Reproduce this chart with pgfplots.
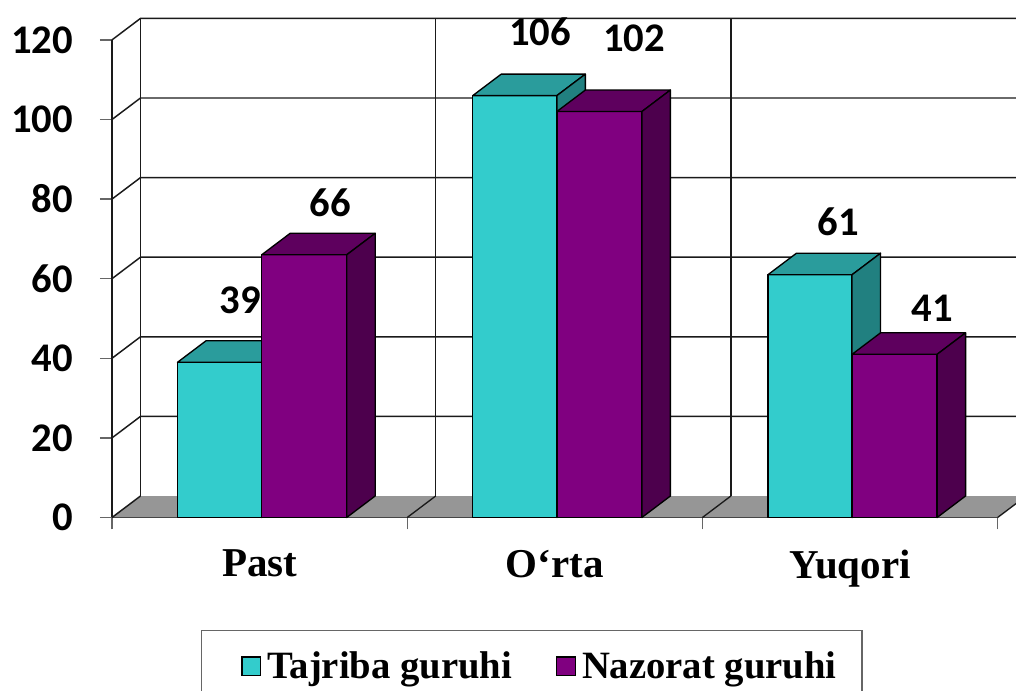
\documentclass[border=0pt]{standalone}
\usepackage{pgfplots}
\pgfplotsset{compat=1.18}
\usepackage{fontspec}
\setmainfont{Liberation Serif}
\newfontfamily\numfont{Carlito}
\definecolor{tajF}{HTML}{33CCCC}
\definecolor{tajT}{HTML}{2A9C9C}
\definecolor{tajS}{HTML}{218080}
\definecolor{nazF}{HTML}{800080}
\definecolor{nazT}{HTML}{5E005E}
\definecolor{nazS}{HTML}{4D004D}
\definecolor{floorc}{HTML}{969696}
\definecolor{linec}{HTML}{1A1A1A}
\newcommand\DX{0.0965}
\newcommand\DY{5.4}
\newcommand\barthreed[4]{%
  \pgfmathsetmacro\xa{#1+\DX}%
  \pgfmathsetmacro\xb{#2+\DX}%
  \pgfmathsetmacro\yt{#3+\DY}%
  \addplot[fill=#4F, draw=black, line width=1pt, line join=round] coordinates {(#1,0) (#2,0) (#2,#3) (#1,#3)} -- cycle;
  \addplot[fill=#4T, draw=black, line width=1pt, line join=round] coordinates {(#1,#3) (#2,#3) (\xb,\yt) (\xa,\yt)} -- cycle;
  \addplot[fill=#4S, draw=black, line width=1pt, line join=round] coordinates {(#2,0) (\xb,\DY) (\xb,\yt) (#2,#3)} -- cycle;
}
\newcommand\wallline[1]{%
  \pgfmathsetmacro\yb{#1+\DY}%
  \addplot[draw=linec, line width=1.1pt] coordinates {(0,#1) (\DX,\yb) (3.3,\yb)};
}
\begin{document}
\begin{tikzpicture}
\useasboundingbox (0pt,0pt) rectangle (762pt,518.25pt);
\clip (0pt,0pt) rectangle (762pt,518.25pt);
\begin{axis}[
  at={(84pt,130.125pt)}, anchor=south west,
  x=221.4pt, y=2.985pt,
  xmin=0, xmax=3, ymin=0, ymax=120,
  axis lines*=left,
  axis line style={linec, line width=1.1pt},
  clip=false,
  tick align=outside,
  major tick length=9pt,
  tick style={draw=black!60, line width=1pt},
  ytick={0,20,40,60,80,100,120},
  yticklabels={0,20,40,60,80,100,120},
  yticklabel style={font=\numfont\bfseries\fontsize{30.5}{30}\selectfont, anchor=east, inner sep=0pt, xshift=-20pt},
  xtick={0,1,2,3}, xticklabels={,,,},
  extra x ticks={0.5,1.5,2.5},
  extra x tick labels={Past,O‘rta,Yuqori},
  extra x tick style={major tick length=0pt, xticklabel style={font=\bfseries\fontsize{30.75}{31}\selectfont, anchor=north, inner sep=0pt, yshift=-24pt}},
  legend style={at={(0.1002,-0.2356)}, anchor=north west, draw=black!60, line width=1pt,
    legend columns=2, font=\bfseries\fontsize{29}{29}\selectfont,
    inner xsep=17pt, inner ysep=14pt,
    /tikz/every even column/.append style={column sep=18pt},
    /tikz/every odd column/.append style={column sep=2.5pt}},
  legend image code/.code={\path (-13pt,0pt); \draw[#1] (0pt,-7pt) rectangle (14pt,7pt);},
]
\addlegendimage{fill=tajF, draw=black, line width=1pt}
\addlegendentry{Tajriba guruhi}
\addlegendimage{fill=nazF, draw=black, line width=1pt}
\addlegendentry{Nazorat guruhi}
% floor
\addplot[fill=floorc, draw=none] coordinates {(0,0) (3,0) (3.0965,5.4) (0.0965,5.4)} -- cycle;
\addplot[draw=linec, line width=1pt] coordinates {(1,0) (1.0965,5.4)};
\addplot[draw=linec, line width=1pt] coordinates {(2,0) (2.0965,5.4)};
\addplot[draw=linec, line width=1pt] coordinates {(3,0) (3.0965,5.4)};
% back wall verticals
\addplot[draw=linec, line width=1.1pt] coordinates {(0.0965,5.4) (0.0965,125.4)};
\addplot[draw=linec, line width=1.1pt] coordinates {(1.0965,5.4) (1.0965,125.4)};
\addplot[draw=linec, line width=1.1pt] coordinates {(2.0965,5.4) (2.0965,125.4)};
% grid on side and back walls
\addplot[draw=linec, line width=1.1pt] coordinates {(0,0) (0.0965,5.4)};
\wallline{20}
\wallline{40}
\wallline{60}
\wallline{80}
\wallline{100}
\wallline{120}
% bars
\barthreed{0.222}{0.507}{39}{taj}
\barthreed{0.507}{0.795}{66}{naz}
\barthreed{1.222}{1.507}{106}{taj}
\barthreed{1.507}{1.795}{102}{naz}
\barthreed{2.222}{2.507}{61}{taj}
\barthreed{2.507}{2.795}{41}{naz}
% value labels
\addplot[draw=none, mark=none, nodes near coords, point meta=explicit symbolic,
  nodes near coords style={font=\numfont\bfseries\fontsize{30.5}{30}\selectfont, anchor=center, inner sep=0pt}]
  coordinates {(0.4336,54.6) [39] (0.7398,79.0) [66] (1.4499,121.98) [106] (1.7683,120.5) [102] (2.4593,74.2) [61] (2.7778,52.6) [41]};
\end{axis}
\end{tikzpicture}
\end{document}
